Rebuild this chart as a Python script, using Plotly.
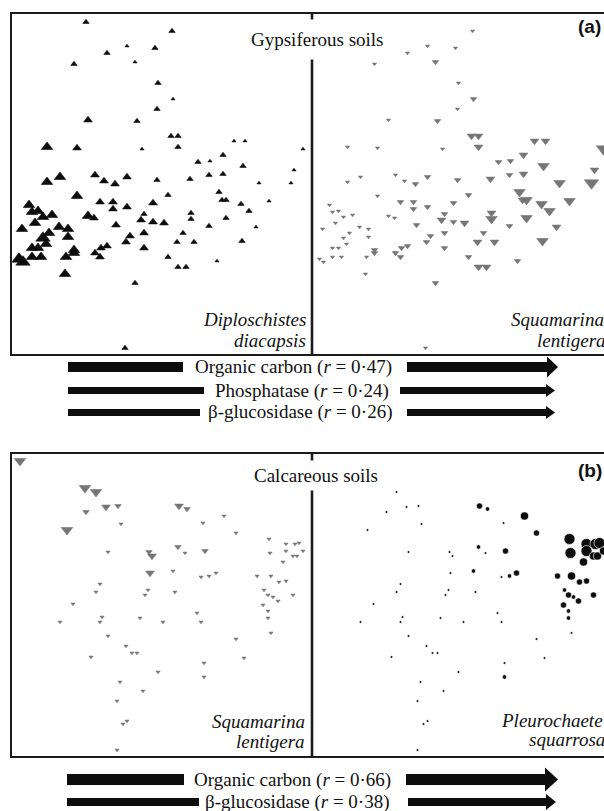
import plotly.graph_objects as go

# ---------------- DATA ----------------
# Gypsiferous soils: site scores (axis 1 = horizontal, axis 2 = vertical, measured downward)
gyp_axis1 = [86, 172, 127, 155, 107, 135, 74, 158, 173, 157,
             88, 137, 171, 178, 47, 77, 142, 178, 234, 245,
             303, 223, 198, 210, 243, 294, 47, 60, 95, 104,
             115, 127, 157, 190, 209, 223, 259, 291, 77, 100,
             113, 113, 127, 153, 168, 219, 222, 226, 241, 249,
             269, 29, 32, 38, 43, 52, 35, 88, 94, 144,
             141, 153, 164, 191, 191, 226, 209, 256, 22, 59,
             68, 68, 49, 43, 46, 116, 130, 126, 144, 183,
             177, 194, 242, 32, 38, 74, 107, 101, 95, 100,
             144, 32, 41, 74, 66, 19, 23, 168, 178, 186,
             217, 65, 135, 125]
gyp_axis2 = [22, 31, 46, 48, 53, 62, 64, 83, 99, 109,
             120, 121, 136, 136, 147, 148, 149, 147, 141, 141,
             149, 155, 162, 161, 166, 170, 182, 177, 175, 181,
             184, 177, 180, 179, 175, 174, 183, 183, 196, 202,
             202, 209, 207, 203, 195, 192, 200, 200, 204, 211,
             201, 205, 212, 211, 217, 215, 223, 216, 218, 214,
             220, 222, 223, 213, 219, 218, 226, 227, 229, 227,
             229, 237, 233, 238, 244, 225, 236, 242, 233, 233,
             242, 242, 241, 248, 248, 250, 246, 248, 253, 257,
             248, 257, 257, 253, 257, 259, 262, 257, 267, 267,
             261, 274, 283, 348]
# cover classes (0 = absent)
diploschistes_cover = [2, 2, 1, 2, 2, 1, 2, 2, 1, 2,
                       3, 2, 2, 2, 4, 3, 1, 2, 1, 1,
                       1, 2, 2, 1, 2, 1, 4, 4, 3, 3,
                       3, 3, 2, 2, 2, 2, 1, 1, 4, 3,
                       3, 3, 3, 3, 2, 2, 2, 2, 2, 2,
                       1, 4, 4, 4, 4, 4, 4, 4, 3, 2,
                       3, 3, 3, 2, 2, 2, 2, 1, 4, 4,
                       4, 4, 4, 5, 4, 3, 3, 3, 3, 2,
                       2, 2, 2, 4, 4, 4, 3, 3, 3, 3,
                       3, 4, 4, 4, 4, 5, 5, 2, 2, 2,
                       1, 4, 2, 2]
squamarina_gyp_cover = [0, 1, 1, 1, 1, 2, 1, 1, 2, 1,
                        1, 2, 3, 3, 1, 1, 1, 3, 3, 3,
                        5, 3, 2, 2, 4, 3, 1, 1, 1, 1,
                        2, 2, 2, 3, 2, 3, 4, 5, 1, 2,
                        2, 2, 2, 2, 2, 4, 3, 4, 4, 4,
                        4, 1, 1, 1, 1, 1, 1, 1, 1, 2,
                        3, 2, 3, 3, 4, 4, 2, 3, 1, 1,
                        1, 1, 1, 1, 1, 2, 2, 2, 2, 2,
                        3, 3, 4, 1, 1, 2, 2, 2, 2, 2,
                        2, 1, 1, 2, 1, 1, 1, 2, 3, 3,
                        2, 1, 2, 1]

# Calcareous soils
calc_axis1 = [20, 85, 96, 106, 118, 86, 67, 121, 179, 187,
              203, 224, 236, 269, 108, 149, 152, 178, 185, 205,
              150, 173, 201, 209, 216, 100, 96, 148, 145, 175,
              73, 60, 102, 100, 140, 163, 197, 201, 108, 126,
              132, 137, 91, 158, 120, 143, 117, 123, 127, 117,
              204, 204, 236, 244, 270, 286, 295, 299, 286, 293,
              297, 303, 283, 257, 271, 279, 286, 264, 268, 273,
              278, 293, 263, 268, 268, 271]
calc_axis2 = [461, 488, 492, 507, 506, 512, 530, 524, 506, 509,
              523, 516, 533, 539, 552, 552, 556, 547, 553, 551,
              573, 571, 577, 576, 573, 584, 592, 590, 595, 592,
              604, 622, 617, 622, 618, 622, 613, 622, 636, 646,
              653, 653, 657, 672, 682, 691, 701, 724, 721, 750,
              663, 677, 639, 658, 553, 544, 544, 543, 551, 556,
              556, 551, 562, 576, 576, 582, 581, 590, 595, 597,
              601, 595, 605, 611, 618, 633]
squamarina_calc_cover = [4, 4, 4, 3, 2, 2, 4, 1, 3, 2,
                         1, 1, 1, 1, 1, 2, 3, 2, 1, 2,
                         3, 1, 1, 1, 1, 1, 1, 1, 1, 1,
                         1, 1, 1, 1, 1, 1, 1, 1, 1, 1,
                         1, 1, 1, 1, 1, 1, 1, 1, 1, 1,
                         1, 1, 1, 1, 1, 1, 1, 1, 1, 1,
                         1, 1, 1, 1, 1, 1, 1, 1, 1, 1,
                         1, 1, 1, 1, 1, 1]
pleurochaete_cover = [0, 0, 1, 1, 1, 1, 1, 1, 3, 2,
                      1, 4, 3, 5, 1, 1, 1, 2, 1, 3,
                      1, 2, 1, 2, 3, 1, 1, 1, 1, 1,
                      1, 1, 1, 1, 1, 1, 1, 1, 1, 1,
                      1, 1, 1, 1, 1, 1, 1, 1, 1, 1,
                      1, 2, 1, 1, 5, 5, 5, 5, 5, 4,
                      4, 4, 4, 3, 4, 3, 3, 2, 3, 2,
                      3, 3, 3, 2, 2, 1]

gyp_variables = ["Organic carbon", "Phosphatase", "β-glucosidase"]
gyp_r = [0.47, 0.24, 0.26]
calc_variables = ["Organic carbon", "β-glucosidase"]
calc_r = [0.66, 0.38]

# ---------------- STYLE ----------------
W, H = 604, 811
def X(p): return p / W
def Y(p): return 1 - p / H

BLACK = "#0d0d0d"
GREY = "#767676"
SERIF = "Liberation Serif"
TRI = {1: 3.6, 2: 5.6, 3: 7.6, 4: 10, 5: 12.5}
CIRC = {1: 2.6, 2: 4.4, 3: 6.2, 4: 8.2, 5: 11}

fig = go.Figure()

def add_points(xs, ys, cover, ax, symbol, color, sizes, lw=0.6, lc=None):
    idx = [i for i, c in enumerate(cover) if c > 0]
    fig.add_trace(go.Scatter(
        x=[xs[i] for i in idx], y=[ys[i] for i in idx], mode="markers",
        xaxis="x" + ax, yaxis="y" + ax,
        marker=dict(symbol=symbol, color=color, opacity=1,
                    size=[sizes[cover[i]] for i in idx],
                    line=dict(width=lw, color=lc or color)),
        hoverinfo="skip", showlegend=False, cliponaxis=True))

add_points(gyp_axis1, gyp_axis2, diploschistes_cover, "", "triangle-up", BLACK, TRI)
add_points(gyp_axis1, gyp_axis2, squamarina_gyp_cover, "2", "triangle-down", GREY, TRI)
add_points(calc_axis1, calc_axis2, squamarina_calc_cover, "3", "triangle-down", GREY, TRI)
add_points(calc_axis1, calc_axis2, pleurochaete_cover, "4", "circle", BLACK, CIRC, lw=0.6, lc="white")

LEFT = [X(11), X(312)]
RIGHT = [X(312), 1.0]
TOPY = [Y(355), Y(13)]
BOTY = [Y(757), Y(453)]
ax_common = dict(visible=False, fixedrange=True)
fig.update_layout(
    xaxis=dict(domain=LEFT, range=[11, 312], anchor="y", **ax_common),
    yaxis=dict(domain=TOPY, range=[355, 13], anchor="x", **ax_common),
    xaxis2=dict(domain=RIGHT, range=[11.5, 303.5], anchor="y2", **ax_common),
    yaxis2=dict(domain=TOPY, range=[355, 13], anchor="x2", **ax_common),
    xaxis3=dict(domain=LEFT, range=[11, 312], anchor="y3", **ax_common),
    yaxis3=dict(domain=BOTY, range=[757, 453], anchor="x3", **ax_common),
    xaxis4=dict(domain=RIGHT, range=[11.5, 303.5], anchor="y4", **ax_common),
    yaxis4=dict(domain=BOTY, range=[757, 453], anchor="x4", **ax_common),
)

shapes = []
ann = []
FRAME = "#1c1c1c"
for (t, b) in [(13, 355), (453, 757)]:
    shapes.append(dict(type="rect", xref="paper", yref="paper", x0=X(11), x1=X(640),
                       y0=Y(b), y1=Y(t), line=dict(color=FRAME, width=2), layer="above"))
    shapes.append(dict(type="line", xref="paper", yref="paper", x0=X(312), x1=X(312),
                       y0=Y(b), y1=Y(t), line=dict(color=FRAME, width=2.6), layer="above"))

def txt(text, x, y, xanchor="center", size=19, bg=None, pad=0, family=SERIF, color="#111"):
    d = dict(text=text, x=X(x), y=Y(y), xref="paper", yref="paper", xanchor=xanchor,
             yanchor="middle", showarrow=False, font=dict(family=family, size=size, color=color),
             borderpad=pad)
    if bg:
        d["bgcolor"] = bg
    ann.append(d)

txt("Gypsiferous soils", 316.5, 39, bg="white", pad=9)
txt("Calcareous soils", 316, 475, bg="white", pad=4)
txt("<b>(a)</b>", 577, 27, xanchor="left", size=19, family="Liberation Sans")
txt("<b>(b)</b>", 577, 470, xanchor="left", size=19, family="Liberation Sans")

txt("<i>Diploschistes</i>", 307, 320, xanchor="right")
txt("<i>diacapsis</i>", 307, 340, xanchor="right")
txt("<i>Squamarina</i>", 605, 320, xanchor="right")
txt("<i>lentigera</i>", 607, 340, xanchor="right")
txt("<i>Squamarina</i>", 306, 721, xanchor="right")
txt("<i>lentigera</i>", 306, 741, xanchor="right")
txt("<i>Pleurochaete</i>", 604, 720, xanchor="right")
txt("<i>squarrosa</i>", 606, 739, xanchor="right")

def label(name, r):
    return f"{name} (<i>r</i> = {r:.2f})".replace("0.", "0·")

# arrow geometry: (y centre, thickness, left bar end, right shaft start, head base, tip, head half-height, text centre)
gyp_geom = [(367, 10, 183, 407, 547, 558, 10.5, 293),
            (390.5, 7, 204, 400, 546, 555, 6.5, 302),
            (412.5, 7, 200, 407, 546, 555, 6.5, 300)]
calc_geom = [(779.5, 11, 184, 406, 545, 558, 12, 292),
             (802, 8, 199, 408, 546, 556, 8, 297)]

def arrow(g, left=68):
    yc, th, le, rs, hb, tip, hh, tc = g
    shapes.append(dict(type="rect", xref="paper", yref="paper", x0=X(left), x1=X(le),
                       y0=Y(yc + th / 2), y1=Y(yc - th / 2), fillcolor=BLACK, line=dict(width=0)))
    shapes.append(dict(type="rect", xref="paper", yref="paper", x0=X(rs), x1=X(hb + 0.5),
                       y0=Y(yc + th / 2), y1=Y(yc - th / 2), fillcolor=BLACK, line=dict(width=0)))
    path = (f"M{X(hb)},{Y(yc - hh)} L{X(tip)},{Y(yc)} L{X(hb)},{Y(yc + hh)} Z")
    shapes.append(dict(type="path", xref="paper", yref="paper", path=path,
                       fillcolor=BLACK, line=dict(width=0)))
    return tc, yc

for name, r, g in zip(gyp_variables, gyp_r, gyp_geom):
    tc, yc = arrow(g)
    txt(label(name, r), tc, yc)
for name, r, g in zip(calc_variables, calc_r, calc_geom):
    tc, yc = arrow(g, left=67)
    txt(label(name, r), tc, yc)

fig.update_layout(width=W, height=H, margin=dict(l=0, r=0, t=0, b=0),
                  paper_bgcolor="white", plot_bgcolor="rgba(0,0,0,0)",
                  shapes=shapes, annotations=ann, showlegend=False)
fig.write_html("out.html", config={"displayModeBar": False, "staticPlot": True},
               post_script="document.body.style.margin='0';document.body.style.overflow='hidden';")
